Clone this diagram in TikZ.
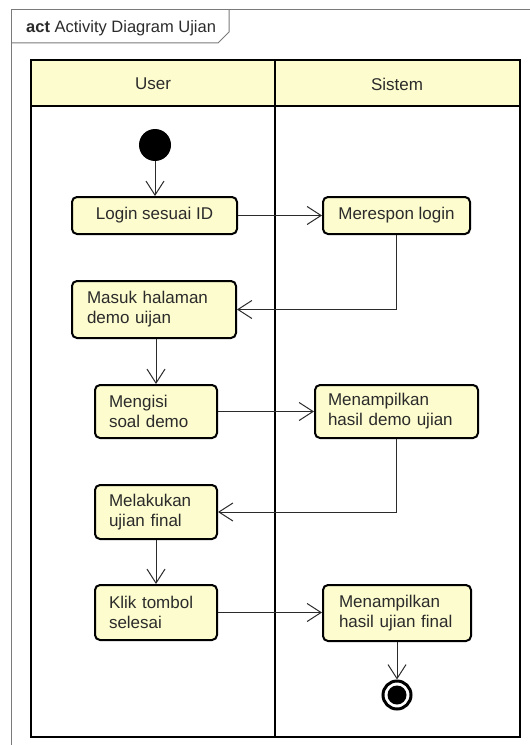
\documentclass[tikz,border=0pt]{standalone}
\usepackage{fontspec}
\setmainfont{Liberation Sans}
\usetikzlibrary{arrows.meta}
\definecolor{laneyellow}{HTML}{FDFCCE}
\definecolor{framegray}{HTML}{7A7A7A}
\definecolor{inkgray}{HTML}{2B2B2B}
\begin{document}
\begin{tikzpicture}[x=1bp, y=-1bp,
  font=\fontsize{17bp}{20bp}\selectfont,
  frameline/.style={draw=framegray, line width=1bp},
  laneline/.style={draw=black, line width=2.5bp},
  act/.style={draw=black, line width=2bp, rounded corners=5bp, fill=laneyellow,
    text=inkgray, inner ysep=0pt},
  actleft/.style={act, align=left},
  flow/.style={draw=inkgray, line width=1bp, -{Straight Barb[length=14bp, width=18bp]}}]
\useasboundingbox (0,0) rectangle (530,745);

% diagram frame with its name tab
\draw[frameline] (11,745) -- (11,10) -- (530,10);
\draw[frameline] (11,43) -- (218,43) -- (229,32) -- (229,10);
\node[anchor=base west, inner sep=0pt, text=inkgray, font=\fontsize{16.5bp}{20bp}\selectfont]
  (title) at (26,33) {\textbf{act} Activity Diagram Ujian};

% swimlanes
\fill[laneyellow] (31,60) rectangle (520,106);
\draw[laneline] (31,60) rectangle (520,737);
\draw[laneline] (31,106) -- (520,106);
\draw[laneline] (275,60) -- (275,737);
\node[text=inkgray] (userlane) at (153,84) {User};
\node[text=inkgray] (sistemlane) at (397,84) {Sistem};

% initial and final nodes
\node[circle, fill=black, minimum size=32bp, inner sep=0pt] (start) at (155,145) {};
\node[circle, draw=black, line width=3bp, minimum size=28bp, inner sep=0pt] (finish) at (397,695) {};
\node[circle, fill=black, minimum size=19bp, inner sep=0pt] (finishdot) at (397,695) {};

% actions
\node[act, minimum width=165bp, minimum height=37bp] (login) at (154.5,215.5) {Login sesuai ID};
\node[act, minimum width=147bp, minimum height=37bp] (respon) at (396.5,215.5) {Merespon login};
\node[actleft, inner xsep=15bp, text width=134bp, minimum height=57bp] (masuk) at (154,309.5)
  {Masuk halaman\\demo uijan};
\node[actleft, inner xsep=14bp, text width=94bp, minimum height=53bp] (mengisi) at (156,411.5)
  {Mengisi\\soal demo};
\node[actleft, inner xsep=13bp, text width=137bp, minimum height=53bp] (hasildemo) at (396.5,411.5)
  {Menampilkan\\hasil demo ujian};
\node[actleft, inner xsep=14bp, text width=94bp, minimum height=54bp] (melakukan) at (156,512)
  {Melakukan\\ujian final};
\node[actleft, inner xsep=14bp, text width=94bp, minimum height=55bp] (klik) at (156,612.5)
  {Klik tombol\\selesai};
\node[actleft, inner xsep=16bp, text width=116bp, minimum height=56bp] (hasilfinal) at (397,613)
  {Menampilkan\\hasil ujian final};

% control flows
\draw[flow] (start) -- (start |- login.north);
\draw[flow] (login.east) -- (respon.west);
\draw[flow] (respon.south) |- (masuk.east);
\draw[flow] (mengisi.north |- masuk.south) -- (mengisi.north);
\draw[flow] (mengisi.east) -- (hasildemo.west);
\draw[flow] (hasildemo.south) |- (melakukan.east);
\draw[flow] (melakukan.south) -- (klik.north);
\draw[flow] (klik.east) -- (klik.east -| hasilfinal.west);
\draw[flow] (hasilfinal.south) -- (finish.north);
\end{tikzpicture}
\end{document}
